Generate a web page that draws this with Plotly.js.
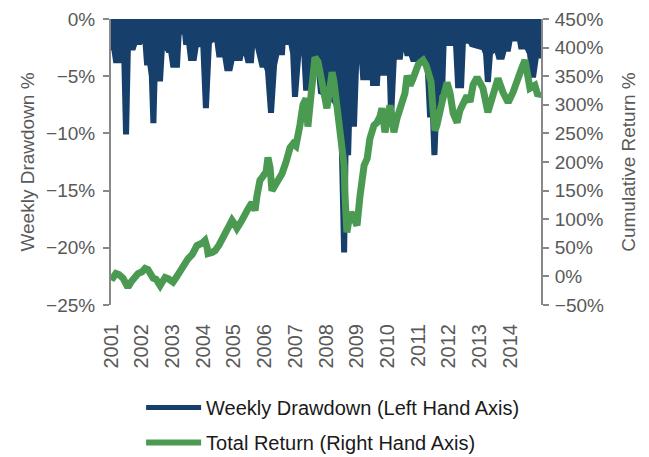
<!DOCTYPE html>
<html>
<head>
<meta charset="utf-8">
<script src="https://cdn.plot.ly/plotly-3.0.1.min.js"></script>
<style>html,body{margin:0;padding:0;background:#fff;}#chart{width:649px;height:457px;}</style>
</head>
<body>
<div id="chart"></div>
<script>
// Weekly drawdown envelope (decimal year, %)
var ddYears = [2001.00,2001.10,2001.16,2001.36,2001.42,2001.49,2001.55,2001.72,2001.78,2001.94,
  2002.01,2002.11,2002.17,2002.27,2002.33,2002.38,2002.43,2002.53,2002.60,2002.66,2002.79,2002.86,2002.95,
  2003.02,2003.15,2003.21,2003.41,2003.44,2003.54,2003.60,2003.70,2003.77,2003.90,
  2004.00,2004.09,2004.19,2004.29,2004.45,2004.52,2004.71,2004.78,2004.87,2004.94,
  2005.20,2005.27,2005.36,2005.46,2005.56,2005.62,2005.72,2005.79,2005.92,
  2006.05,2006.11,2006.21,2006.31,2006.40,2006.57,2006.62,2006.70,2006.86,2006.93,2006.99,
  2007.06,2007.12,2007.28,2007.35,2007.45,2007.51,2007.58,2007.77,2007.84,
  2008.03,2008.10,2008.16,2008.23,2008.49,2008.59,2008.65,2008.72,2008.78,2008.85,2008.91,2008.98,
  2009.04,2009.14,2009.21,2009.34,2009.40,2009.47,2009.53,2009.66,2009.73,2009.82,2009.86,2009.92,2009.99,
  2010.05,2010.12,2010.21,2010.41,2010.47,2010.57,2010.64,2010.77,2010.83,
  2011.13,2011.19,2011.29,2011.39,2011.45,2011.53,2011.61,2011.78,2011.84,2011.91,2011.97,
  2012.23,2012.30,2012.40,2012.46,2012.69,2012.75,
  2013.14,2013.21,2013.27,2013.34,2013.44,2013.57,2013.63,2013.73,2013.80,2013.93,2013.99,
  2014.22,2014.28,2014.35,2014.54,2014.64,2014.74,2014.84,2015.00];
var ddValues = [-2.5,-2.5,-3.6,-3.6,-2.0,-10.1,-2.5,-2.5,-2.0,-2.0,
  -1.6,-1.6,-3.8,-3.8,-5.0,-9.1,-4.0,-5.2,-5.2,-2.4,-2.4,-2.7,-2.7,
  -4.0,-4.0,-1.0,-1.2,-2.0,-2.0,-3.4,-3.4,-2.2,-2.2,
  -2.0,-7.8,-2.0,-1.8,-1.7,-3.1,-3.1,-4.3,-4.3,-3.4,
  -3.4,-2.5,-2.5,-3.6,-3.6,-1.4,-1.4,-2.5,-4.0,
  -4.0,-4.5,-8.2,-4.0,-2.9,-2.9,-0.8,-2.0,-2.0,-3.0,-6.8,
  -3.0,-2.4,-2.4,-6.0,-6.0,-3.5,-4.5,-4.5,-6.5,
  -6.0,-2.5,-2.5,-7.0,-8.0,-20.4,-9.0,-11.9,-6.0,-5.0,-9.4,-4.0,
  -2.5,-2.5,-5.1,-5.1,-1.3,-1.3,-5.6,-5.6,-2.5,-2.5,-4.7,-4.7,-1.3,
  -2.0,-8.5,-3.3,-3.3,-2.0,-2.0,-3.0,-3.0,-3.5,
  -3.5,-2.5,-3.0,-8.6,-6.0,-11.9,-6.4,-6.4,-1.2,-1.2,-2.1,
  -2.1,-5.8,-5.8,-1.9,-1.9,-2.2,
  -2.5,-3.0,-5.5,-3.0,-2.7,-2.7,-3.3,-3.3,-2.6,-2.6,-1.7,
  -1.7,-1.3,-2.4,-2.4,-3.0,-5.1,-3.2,-3.2];

// Cumulative total return (decimal year, %)
var retYears = [2001.00,2001.07,2001.16,2001.26,2001.39,2001.49,2001.55,2001.65,2001.75,2001.88,
  2002.01,2002.11,2002.20,2002.27,2002.37,2002.47,2002.60,2002.69,2002.76,2002.86,2002.95,
  2003.02,2003.12,2003.25,2003.38,2003.51,2003.64,2003.80,2003.96,
  2004.06,2004.13,2004.16,2004.29,2004.39,2004.52,2004.65,2004.78,2004.87,2004.94,
  2005.04,2005.10,2005.23,2005.36,2005.46,2005.59,2005.69,2005.75,2005.85,2005.95,
  2006.05,2006.11,2006.18,2006.24,2006.34,2006.44,2006.57,2006.70,2006.83,2006.93,
  2007.02,2007.15,2007.25,2007.35,2007.41,2007.48,2007.54,2007.64,2007.74,2007.84,2007.94,
  2008.03,2008.13,2008.20,2008.26,2008.36,2008.46,2008.52,2008.59,2008.62,2008.65,2008.68,2008.75,2008.81,2008.91,
  2009.01,2009.11,2009.17,2009.24,2009.34,2009.43,2009.56,2009.66,2009.76,2009.82,2009.92,
  2010.02,2010.08,2010.15,2010.21,2010.31,2010.41,2010.47,2010.57,2010.64,2010.74,2010.83,2010.90,
  2011.00,2011.06,2011.16,2011.26,2011.35,2011.42,2011.48,2011.55,2011.61,2011.71,2011.78,2011.94,
  2012.04,2012.14,2012.27,2012.36,2012.43,2012.59,2012.69,2012.79,2012.92,
  2013.01,2013.11,2013.27,2013.44,2013.60,2013.76,2013.93,
  2014.09,2014.25,2014.38,2014.48,2014.58,2014.64,2014.80,2014.90,2015.00];
var retValues = [0,-2,5,3,-3,-12,-19,-10,-2,5,
  8,14,12,7,-3,-5,-16,-8,-2,-4,-8,
  -10,-2,10,20,31,38,54,58,
  63,50,40,42,45,55,68,78,88,98,
  90,84,95,112,118,129,115,140,168,175,
  183,208,190,150,160,173,180,200,225,232,
  228,264,300,311,262,300,339,383,375,345,310,
  294,330,357,340,300,259,232,194,140,100,77,100,112,101,
  89,142,175,194,206,241,264,269,280,294,252,
  280,299,280,252,276,295,304,320,351,334,345,357,
  370,374,378,369,357,340,294,255,264,300,305,339,
  320,285,269,290,299,316,305,335,348,
  340,329,287,316,346,322,304,
  322,351,365,378,350,329,334,316,322];

var yearTicks = [2001,2002,2003,2004,2005,2006,2007,2008,2009,2010,2011,2012,2013,2014];
var yearLabels = yearTicks.map(String);

var blue = '#173F6B', green = '#4A9A52';
var tickFont = {family: 'Liberation Sans, Arial, sans-serif', size: 19, color: '#595959'};
var yearFont = {family: 'Liberation Sans, Arial, sans-serif', size: 20, color: '#595959'};

var traces = [
  {x: ddYears, y: ddValues, type: 'scatter', mode: 'lines', name: 'Weekly Drawdown (Left Hand Axis)',
   line: {color: blue, width: 6, shape: 'linear'}, fill: 'tozeroy', fillcolor: blue, showlegend: false,
   hoverinfo: 'skip'},
  {x: retYears, y: retValues, type: 'scatter', mode: 'lines', name: 'Total Return (Right Hand Axis)',
   yaxis: 'y2', line: {color: green, width: 7}, showlegend: false},
  {x: [null], y: [null], type: 'scatter', mode: 'lines', name: 'Weekly Drawdown (Left Hand Axis)',
   line: {color: blue, width: 5}, legendgroup: 'a'},
  {x: [null], y: [null], type: 'scatter', mode: 'lines', name: 'Total Return (Right Hand Axis)',
   line: {color: green, width: 6}, legendgroup: 'b'}
];

var layout = {
  width: 649, height: 457,
  margin: {l: 111, r: 108, t: 19, b: 152, autoexpand: false},
  paper_bgcolor: '#fff', plot_bgcolor: '#fff',
  showlegend: true,
  legend: {x: 0.07, xanchor: 'left', y: -0.29, yanchor: 'top', orientation: 'v',
           font: {family: 'Liberation Sans, Arial, sans-serif', size: 20, color: '#1a1a1a'},
           tracegroupgap: 6, itemwidth: 55, bgcolor: 'rgba(0,0,0,0)'},
  xaxis: {type: 'linear', range: [2001, 2015], tickmode: 'array', tickvals: yearTicks, ticktext: yearLabels,
          tickangle: -90, showgrid: false, zeroline: false, showline: false, ticks: '',
          ticklabelstandoff: 14, tickfont: yearFont, fixedrange: true, automargin: false},
  yaxis: {range: [-25, 0], dtick: 5, ticksuffix: '%', showgrid: false, zeroline: false, automargin: false,
          showline: true, linecolor: '#888', linewidth: 2, ticks: 'outside', ticklen: 6, tickwidth: 2,
          tickcolor: '#888', tickfont: tickFont, ticklabelstandoff: 4,
          title: {text: 'Weekly Drawdown %', font: tickFont, standoff: 6}},
  yaxis2: {range: [-50, 450], dtick: 50, ticksuffix: '%', overlaying: 'y', side: 'right', automargin: false,
           showgrid: false, zeroline: false, showline: true, linecolor: '#888', linewidth: 2,
           ticks: 'outside', ticklen: 6, tickwidth: 2, tickcolor: '#888', tickfont: tickFont,
           ticklabelstandoff: 2,
           title: {text: 'Cumulative Return %', font: tickFont, standoff: 19}}
};

Plotly.newPlot('chart', traces, layout, {displayModeBar: false, staticPlot: true});
</script>
</body>
</html>
